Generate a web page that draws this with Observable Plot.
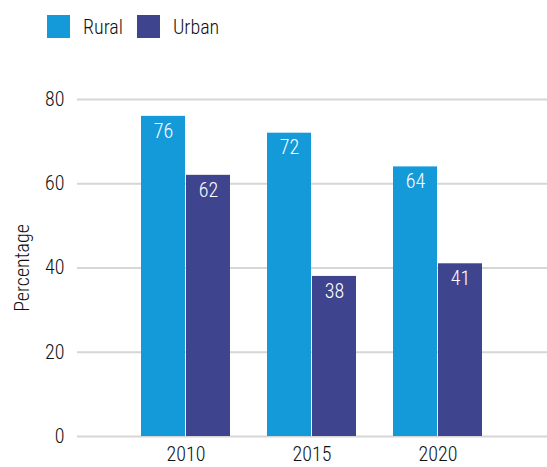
<!DOCTYPE html>
<html>
<head>
<meta charset="utf-8">
<script src="https://cdn.jsdelivr.net/npm/d3@7"></script>
<script src="https://cdn.jsdelivr.net/npm/@observablehq/plot@0.6"></script>
<style>
  body { margin: 0; background: #fff; font-family: "Roboto Condensed", Roboto, sans-serif; font-weight: 300; }
  #legend { display: flex; align-items: center; height: 40px; box-sizing: border-box; padding: 15px 0 2px 47px; font-size: 20px; color: #111; font-weight: 300; }
  .sw { width: 23px; height: 23px; margin-right: 13px; }
  .item { display: flex; align-items: center; margin-right: 14px; }
  svg text { font-weight: 300; }
</style>
</head>
<body>
<div id="legend"></div>
<div id="chart"></div>
<script>
const years = ["2010", "2015", "2020"];
const seriesNames = ["Rural", "Urban"];
const rural = [76, 72, 64];
const urban = [62, 38, 41];
const colors = ["#149ad9", "#3f448f"];
const yTicks = [0, 20, 40, 60, 80];

const data = years.flatMap((y, i) => [
  {year: y, series: "Rural", value: rural[i]},
  {year: y, series: "Urban", value: urban[i]}
]);
const ruralData = data.filter(d => d.series === "Rural");
const urbanData = data.filter(d => d.series === "Urban");

const chart = Plot.plot({
  width: 547,
  height: 427,
  marginLeft: 77,
  marginRight: 0,
  marginTop: 59,
  marginBottom: 31,
  style: {fontFamily: "'Roboto Condensed', Roboto, sans-serif", fontSize: "20px", fontWeight: 300, color: "#111", background: "#fff"},
  x: {domain: years, paddingInner: 0.29, paddingOuter: 0.5, label: null},
  y: {domain: [0, 80], label: "Percentage"},
  color: {domain: seriesNames, range: colors},
  marks: [
    Plot.gridY(yTicks, {stroke: "#d6d6d6", strokeOpacity: 1, strokeWidth: 2}),
    Plot.axisY(yTicks, {tickSize: 0, tickPadding: 13, label: "Percentage", labelAnchor: "center", labelArrow: "none", labelOffset: 63}),
    Plot.axisX({tickSize: 0, tickPadding: 10, label: null}),
    Plot.barY(ruralData, {x: "year", y: "value", fill: "series", insetRight: 45}),
    Plot.barY(urbanData, {x: "year", y: "value", fill: "series", insetLeft: 45}),
    Plot.text(ruralData, {x: "year", y: "value", text: d => String(d.value), dx: -22.5, dy: 7, lineAnchor: "top", fill: "white"}),
    Plot.text(urbanData, {x: "year", y: "value", text: d => String(d.value), dx: 22.5, dy: 7, lineAnchor: "top", fill: "white"})
  ]
});
document.getElementById("chart").appendChild(chart);

const color = chart.scale("color");
const legend = document.getElementById("legend");
seriesNames.forEach((name, i) => {
  const item = document.createElement("div");
  item.className = "item";
  const sw = document.createElement("div");
  sw.className = "sw";
  sw.style.background = color.range[i];
  const label = document.createElement("span");
  label.textContent = name;
  item.appendChild(sw);
  item.appendChild(label);
  legend.appendChild(item);
});
</script>
</body>
</html>
